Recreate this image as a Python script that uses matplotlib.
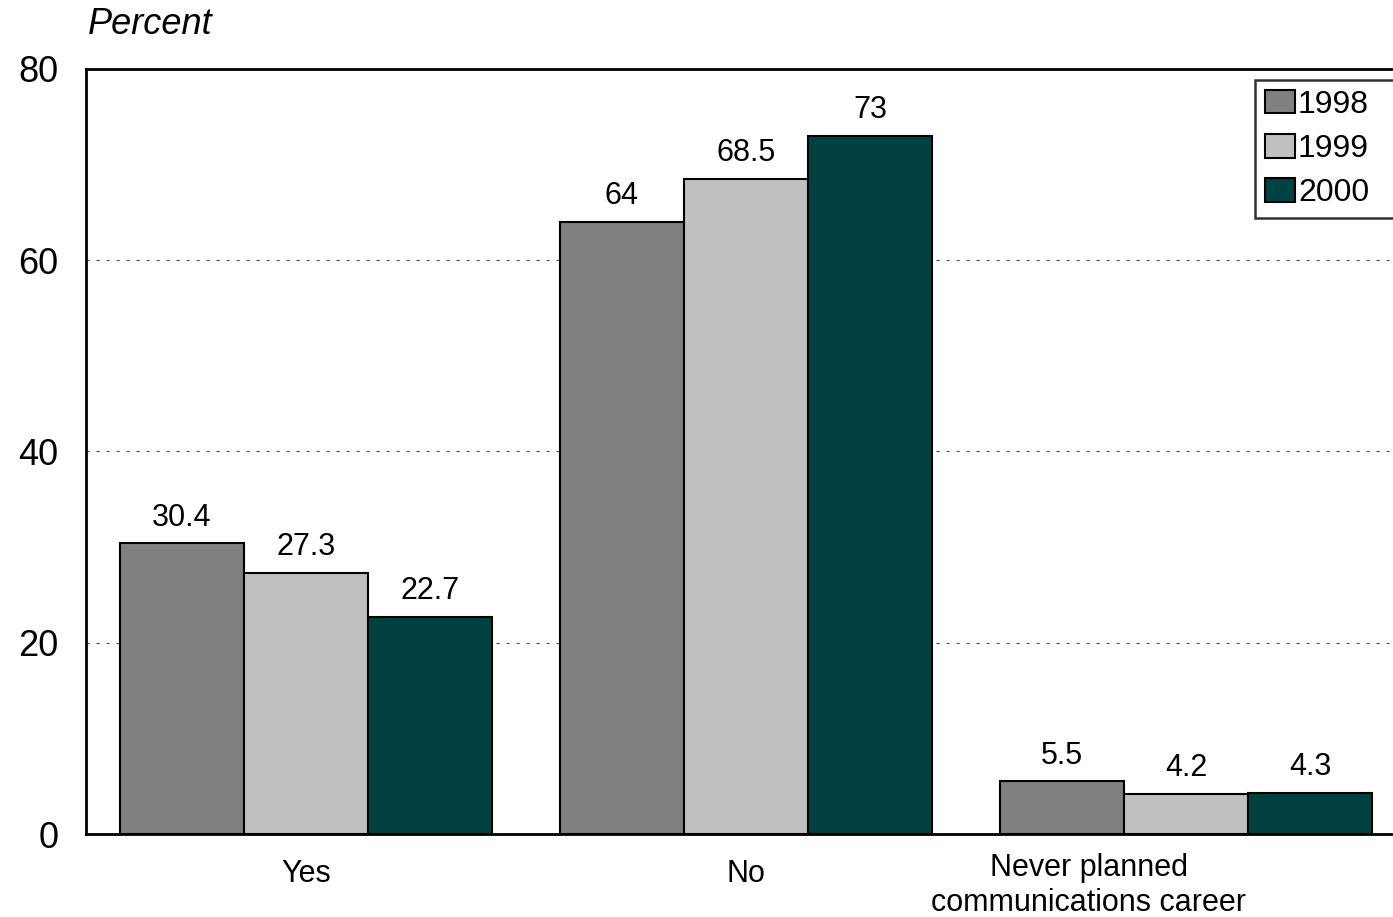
import matplotlib.pyplot as plt
import matplotlib.transforms as mtransforms
import numpy as np

plt.rcParams['font.family'] = ['Liberation Sans', 'DejaVu Sans']

categories = ["Yes", "No", "Never planned\ncommunications career"]
years = ["1998", "1999", "2000"]
values = {
    "1998": [30.4, 64, 5.5],
    "1999": [27.3, 68.5, 4.2],
    "2000": [22.7, 73, 4.3],
}
labels = {
    "1998": ["30.4", "64", "5.5"],
    "1999": ["27.3", "68.5", "4.2"],
    "2000": ["22.7", "73", "4.3"],
}
colors = {"1998": "#808080", "1999": "#c0c0c0", "2000": "#004242"}

fig = plt.figure(figsize=(13.93, 9.17), dpi=100)
ax = fig.add_axes([86 / 1393, 83 / 917, 1320 / 1393, 765 / 917])

x = np.arange(len(categories))
width = 0.282
for i, yr in enumerate(years):
    pos = x + (i - 1) * width
    bars = ax.bar(pos, values[yr], width, color=colors[yr], edgecolor="black",
                  linewidth=1.5, label=yr, zorder=3)
    for b, lab in zip(bars, labels[yr]):
        ax.text(b.get_x() + b.get_width() / 2, b.get_height() + 1.1, lab,
                ha="center", va="bottom", fontsize=22)

ax.set_xlim(-0.5, 2.5)
ax.set_ylim(0, 80)
ax.set_yticks([0, 20, 40, 60, 80])
ax.set_xticks(x)
ax.set_xticklabels(categories, fontsize=22, linespacing=1.2)
ax.tick_params(axis="both", length=0)
ax.tick_params(axis="y", labelsize=26, pad=20)
ax.tick_params(axis="x", pad=18)
# the long label sits left of its group centre
last = ax.get_xticklabels()[-1]
last.set_transform(last.get_transform() +
                   mtransforms.ScaledTranslation(-97 / 100, 6 / 100, fig.dpi_scale_trans))
ax.yaxis.grid(True, linestyle=(0, (3, 6)), color="#555555", linewidth=0.8, zorder=0)
for s in ax.spines.values():
    s.set_linewidth(2)

fig.text(88 / 1393, 1 - 24 / 917, "Percent", fontsize=26, style="italic",
         ha="left", va="center")

leg = ax.legend(loc="upper left",
                bbox_to_anchor=((1255 - 86) / 1320, (834 - 80) / 765, 0.12, 0),
                mode="expand", fontsize=23, frameon=True, fancybox=False,
                edgecolor="black", handlelength=0.95, handleheight=0.75,
                handletextpad=0.1, borderpad=0.3, labelspacing=0.45,
                borderaxespad=0)
leg.get_frame().set_linewidth(1.8)

fig.savefig("out.png", dpi=100)
